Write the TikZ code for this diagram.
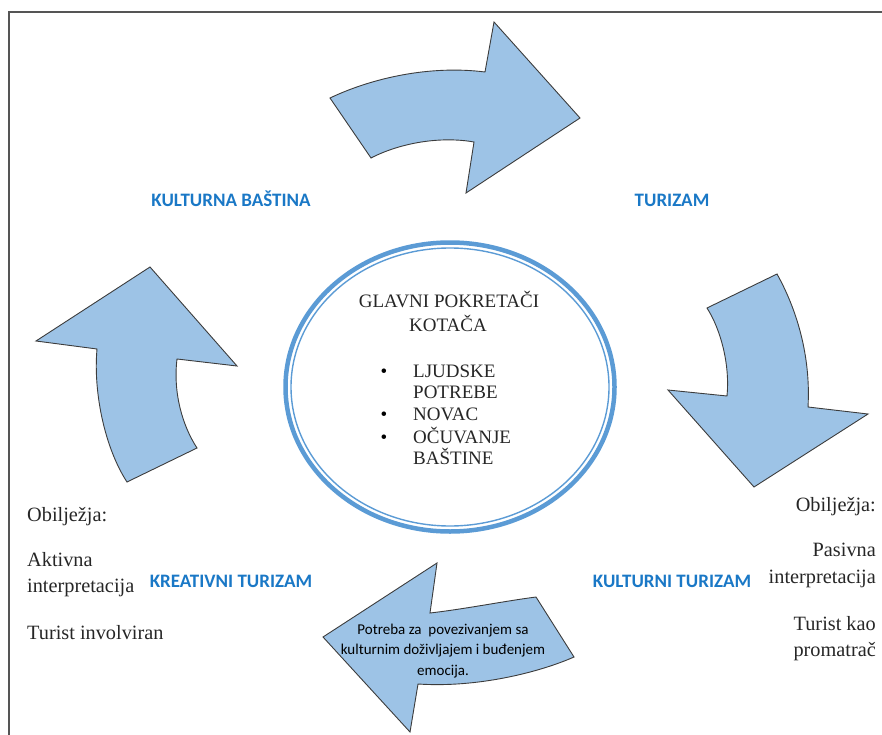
\documentclass[tikz,border=0pt]{standalone}
\usepackage{fontspec}
\setmainfont{Liberation Serif}
\newfontfamily\wheelsans{Carlito}
\definecolor{wkFill}{HTML}{9DC3E6}
\definecolor{wkEdge}{HTML}{3C3C3C}
\definecolor{wkRing}{HTML}{5B9BD5}
\definecolor{wkLabel}{HTML}{1A78C6}
\definecolor{wkFrame}{HTML}{555555}
\usepackage{tikz}

\begin{document}
\begin{tikzpicture}[x=1pt, y=-1pt,
    wheelarrow/.style={fill=wkFill, draw=wkEdge, line width=0.9pt, line join=miter},
    stagelabel/.style={font=\wheelsans\bfseries\fontsize{19}{22}\selectfont, text=wkLabel, inner sep=0pt, anchor=base},
    serifline/.style={font=\fontsize{19}{23}\selectfont, text=black!85, inner sep=0pt},
    featline/.style={font=\fontsize{20.3}{24}\selectfont, text=black!85, inner sep=0pt},
    dot/.style={font=\fontsize{19}{23}\selectfont, inner sep=0pt, anchor=base}]
  \useasboundingbox (0,0) rectangle (882,735);
  % page frame, only top and left edges show
  \draw[wkFrame, line width=1.4pt] (9,735) -- (9,12) -- (882,12);

  % top arrow: KULTURNA BAŠTINA -> TURIZAM
  \draw[wheelarrow] (330,98) -- (371,158) .. controls (400,143) and (440,136) .. (474,142)
    -- (466,193) -- (580,118) -- (494,22) -- (485,72)
    .. controls (430,65) and (372,78) .. cycle;
  % right arrow, pointing down
  \draw[wheelarrow] (707,308) -- (777,274) .. controls (796,308) and (811,355) .. (808,407)
    -- (868,414) -- (754,487) -- (668,390) -- (727,396)
    .. controls (730,365) and (721,330) .. cycle;
  % bottom arrow, pointing left
  \draw[wheelarrow] (323,637) -- (437,563) -- (430,613)
    .. controls (465,609) and (505,601) .. (536,597) -- (574,657)
    .. controls (540,672) and (478,688) .. (418,684) -- (410,732) -- cycle;
  % left arrow, pointing up
  \draw[wheelarrow] (150,267) -- (237,366) -- (177,359)
    .. controls (173,392) and (182,425) .. (197,448) -- (127,482)
    .. controls (106,450) and (93,395) .. (97,349) -- (36,341) -- cycle;

  % the wheel's hub
  \draw[wkRing, line width=4.5pt] (450,387) ellipse [x radius=164.5, y radius=144.5];
  \draw[wkRing, line width=1.4pt] (450,387) ellipse [x radius=159, y radius=139];
  \node[serifline, anchor=base] (hubTitle) at (449,307) {GLAVNI POKRETAČI};
  \node[serifline, anchor=base] (hubTitleB) at (448,331) {KOTAČA};
  \node[dot] (dotNeeds) at (384,377) {•};
  \node[serifline, anchor=base west] (needsA) at (413,377) {LJUDSKE};
  \node[serifline, anchor=base west] (needsB) at (413,398) {POTREBE};
  \node[dot] (dotMoney) at (384,420) {•};
  \node[serifline, anchor=base west] (money) at (413,420) {NOVAC};
  \node[dot] (dotKeep) at (384,443) {•};
  \node[serifline, anchor=base west] (keepA) at (413,443) {OČUVANJE};
  \node[serifline, anchor=base west] (keepB) at (413,464) {BAŠTINE};

  % stage labels
  \node[stagelabel] (heritage) at (231,207) {KULTURNA BAŠTINA};
  \node[stagelabel] (tourism) at (672,207) {TURIZAM};
  \node[stagelabel] (creative) at (231,587) {KREATIVNI TURIZAM};
  \node[stagelabel] (cultural) at (672,587) {KULTURNI TURIZAM};

  % text riding on the bottom arrow
  \node[font=\wheelsans\fontsize{15}{20.5}\selectfont, align=center, inner sep=0pt] (needText) at (443,651)
    {Potreba za\ \ povezivanjem sa\\kulturnim doživljajem i buđenjem\\emocija.};

  % features, left side
  \node[featline, anchor=base west] (leftHead) at (27,521) {Obilježja:};
  \node[featline, anchor=base west] (leftActA) at (27,566) {Aktivna};
  \node[featline, anchor=base west] (leftActB) at (27,592) {interpretacija};
  \node[featline, anchor=base west] (leftInv) at (27,639) {Turist involviran};
  % features, right side
  \node[featline, anchor=base east] (rightHead) at (876,511) {Obilježja:};
  \node[featline, anchor=base east] (rightPasA) at (876,556) {Pasivna};
  \node[featline, anchor=base east] (rightPasB) at (876,583) {interpretacija};
  \node[featline, anchor=base east] (rightObsA) at (876,630) {Turist kao};
  \node[featline, anchor=base east] (rightObsB) at (876,656) {promatrač};
\end{tikzpicture}
\end{document}
